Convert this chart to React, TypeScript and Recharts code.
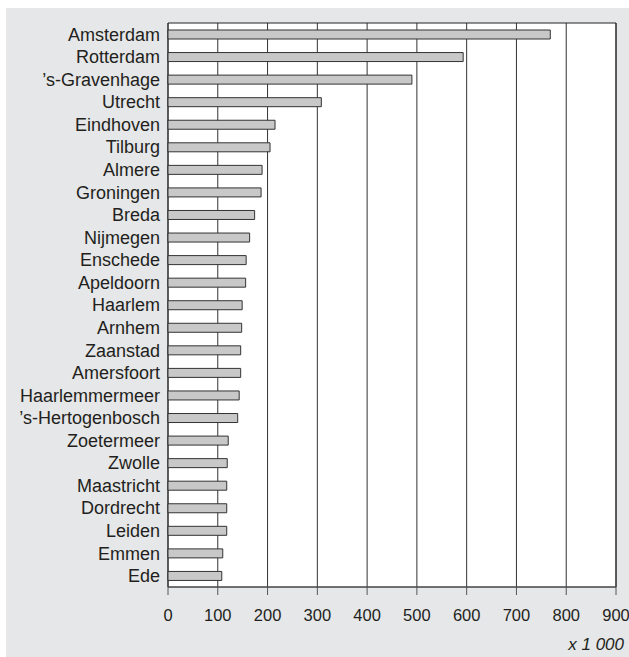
import { BarChart, Bar, XAxis, YAxis, CartesianGrid, ReferenceArea } from 'recharts';

// gemeenten, inwoners x 1 000
const cities = [
  'Amsterdam', 'Rotterdam', '’s-Gravenhage', 'Utrecht', 'Eindhoven', 'Tilburg', 'Almere',
  'Groningen', 'Breda', 'Nijmegen', 'Enschede', 'Apeldoorn', 'Haarlem', 'Arnhem', 'Zaanstad',
  'Amersfoort', 'Haarlemmermeer', '’s-Hertogenbosch', 'Zoetermeer', 'Zwolle', 'Maastricht',
  'Dordrecht', 'Leiden', 'Emmen', 'Ede',
];
const inhabitants = [
  768, 593, 490, 308, 215, 205, 189,
  187, 174, 164, 157, 156, 149, 148, 146,
  146, 143, 140, 121, 119, 118,
  118, 118, 110, 108,
];
const xTicks = [0, 100, 200, 300, 400, 500, 600, 700, 800, 900];

const data = cities.map((city, i) => ({ city, value: inhabitants[i] }));

const textColor = '#231f20';
const font = '"Liberation Sans", Arial, Helvetica, sans-serif';

export default function App() {
  return (
    <div
      style={{
        position: 'absolute',
        left: 0,
        top: 0,
        width: 629,
        height: 657,
        background: '#fff',
        overflow: 'hidden',
        fontFamily: font,
      }}
    >
      <div style={{ position: 'absolute', left: 6, top: 8, right: 0, bottom: 0, background: '#e6e7e8' }} />
      <div style={{ position: 'absolute', left: 0, top: 0 }}>
        <BarChart
          width={629}
          height={657}
          data={data}
          layout="vertical"
          margin={{ top: 23, right: 13, bottom: 0, left: 0 }}
          style={{ fontFamily: font }}
        >
          <CartesianGrid horizontal={false} fill="#fff" fillOpacity={1} stroke="#333" strokeWidth={1} />
          <XAxis
            type="number"
            domain={[0, 900]}
            ticks={xTicks}
            interval={0}
            height={70}
            tickSize={8}
            tickMargin={14}
            stroke="#555"
            tick={{ fill: textColor, fontSize: 16.5 }}
          />
          <YAxis
            type="category"
            dataKey="city"
            width={168}
            interval={0}
            tickLine={false}
            axisLine={false}
            tickSize={0}
            tickMargin={8}
            tick={{ fill: textColor, fontSize: 18 }}
          />
          <ReferenceArea x1={0} x2={900} fill="none" fillOpacity={0} stroke="#222" strokeWidth={1} />
          <Bar
            dataKey="value"
            fill="#c8c8c8"
            stroke="#333"
            strokeWidth={1}
            barSize={9}
            isAnimationActive={false}
          />
        </BarChart>
      </div>
      <div
        style={{
          position: 'absolute',
          right: 5,
          top: 636,
          fontSize: 17,
          lineHeight: '17px',
          fontStyle: 'italic',
          color: textColor,
        }}
      >
        x 1 000
      </div>
    </div>
  );
}
